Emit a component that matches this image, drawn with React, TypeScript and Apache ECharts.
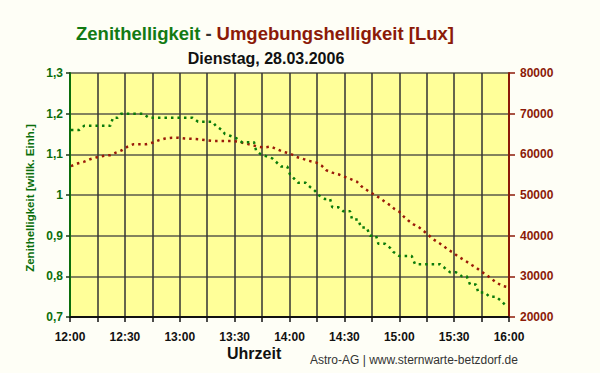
import React, { useEffect, useRef } from "react";
import * as echarts from "echarts";

// minutes after 12:00
const zenithTimes = [0.5, 5, 7.7, 16, 22, 23.5, 26, 28, 40, 43, 67, 70, 78, 79.7, 83, 84.7, 87.9, 90.8, 93.9, 100.6, 101.7, 104.3, 107.5, 110.6, 113, 115.4, 118.8, 120.3, 122.6, 124.8, 128.9, 131.2, 134, 135.8, 139.4, 142.2, 143.4, 146.7, 149.4, 153.1, 154.2, 157.6, 159.1, 162.2, 164, 167.3, 168.6, 172.2, 175, 176.8, 180, 186.8, 188.6, 198.5, 202.3, 205, 207.8, 211, 214.2, 216.9, 218.7, 222, 223.2, 226.9, 229.3, 232.9, 235.6, 237.8];
const zenithValues = [1.16, 1.16, 1.17, 1.17, 1.17, 1.19, 1.19, 1.2, 1.2, 1.19, 1.19, 1.18, 1.18, 1.17, 1.16, 1.15, 1.145, 1.14, 1.13, 1.13, 1.11, 1.1, 1.095, 1.09, 1.08, 1.07, 1.07, 1.05, 1.04, 1.03, 1.03, 1.02, 1.01, 1.0, 0.99, 0.99, 0.97, 0.97, 0.96, 0.96, 0.94, 0.94, 0.92, 0.92, 0.9, 0.9, 0.88, 0.88, 0.87, 0.86, 0.85, 0.85, 0.83, 0.83, 0.83, 0.82, 0.81, 0.81, 0.8, 0.8, 0.78, 0.78, 0.76, 0.76, 0.75, 0.75, 0.74, 0.73];

const luxTimes = [0.5, 4.5, 7.8, 11, 14.8, 19, 22, 25, 28.4, 31.5, 34.8, 38.3, 41.7, 45.5, 48.8, 52.1, 55.8, 59.2, 62.7, 66.7, 70.2, 73.7, 77.5, 81.1, 84.7, 88.4, 92, 95.7, 99.3, 102.6, 106.1, 109.7, 113.4, 116.7, 120.3, 123.6, 127.2, 130.7, 134.5, 137.6, 140, 143.4, 146.7, 150, 153.5, 156.8, 159.1, 161.3, 164, 166.8, 169.5, 172.2, 175, 177.3, 180, 182.2, 185, 187.7, 190.4, 193.5, 195.9, 198.6, 201.4, 204.1, 206.8, 209.6, 211.8, 214.7, 216.9, 219.6, 222.4, 225.1, 227.8, 230.6, 233.3, 236.6, 239.7];
const luxValues = [57100, 57800, 58200, 58800, 59300, 59700, 59800, 60400, 61000, 61900, 62500, 62500, 62500, 62900, 63500, 63900, 64100, 64100, 63900, 63800, 63700, 63500, 63300, 63300, 63300, 63300, 63100, 62700, 62300, 61900, 61700, 61900, 61200, 60600, 60200, 59400, 58900, 58400, 58000, 57200, 56100, 55500, 55100, 54500, 53900, 53300, 52200, 51500, 50700, 50000, 49200, 48300, 47500, 46600, 45900, 44800, 43700, 42800, 42200, 41100, 40200, 39100, 38300, 37500, 36500, 35800, 35000, 34200, 33600, 32800, 32000, 31100, 30300, 29300, 28400, 27600, 27300];

const timeLabels = ["12:00", "12:30", "13:00", "13:30", "14:00", "14:30", "15:00", "15:30", "16:00"];

const GREEN = "#0b6e0b";
const RED = "#8b1a08";
const FONT = "'Liberation Sans', Arial, sans-serif";

export default function App() {
  const ref = useRef<HTMLDivElement>(null);
  useEffect(() => {
    document.body.style.margin = "0";
    document.body.style.background = "#fefef6";
    const chart = echarts.init(ref.current!, null, { renderer: "svg" });
    chart.setOption({
      animation: false,
      backgroundColor: "#fefef6",
      textStyle: { fontFamily: FONT },
      title: [
        {
          text: "{g|Zenithelligkeit} {d|-} {r|Umgebungshelligkeit [Lux]}",
          left: 260,
          top: 19,
          textAlign: "center",
          textStyle: {
            rich: {
              g: { color: "#137a13", fontSize: 18.5, fontWeight: "bold", fontFamily: FONT },
              d: { color: "#333", fontSize: 18.5, fontWeight: "bold", fontFamily: FONT },
              r: { color: "#8b1a08", fontSize: 18.5, fontWeight: "bold", fontFamily: FONT },
            },
          },
        },
        {
          text: "Dienstag, 28.03.2006",
          left: 261,
          top: 45,
          textAlign: "center",
          textStyle: { color: "#111", fontSize: 16, fontWeight: "bold", fontFamily: FONT },
        },
      ],
      graphic: [
        {
          type: "text",
          x: 30,
          y: 198,
          rotation: Math.PI / 2,
          style: {
            text: "Zenithelligkeit [willk. Einh.]",
            fill: GREEN,
            font: `bold 11.5px ${FONT}`,
            align: "center",
            verticalAlign: "middle",
          },
        },
        {
          type: "text",
          left: 227,
          top: 345,
          style: { text: "Uhrzeit", fill: "#111", font: `bold 16px ${FONT}` },
        },
        {
          type: "text",
          left: 310,
          top: 354,
          style: { text: "Astro-AG | www.sternwarte-betzdorf.de", fill: "#333", font: `12px ${FONT}` },
        },
      ],
      grid: {
        left: 70,
        right: 91,
        top: 73,
        bottom: 56,
        show: true,
        backgroundColor: "#ffff99",
        borderWidth: 0,
      },
      xAxis: {
        type: "value",
        min: 0,
        max: 240,
        interval: 15,
        axisLine: { lineStyle: { color: "#111", width: 2 } },
        axisTick: { show: true, length: 5, lineStyle: { color: "#111", width: 1.5 } },
        splitLine: { show: true, lineStyle: { color: "#333", width: 1.5 } },
        axisLabel: {
          margin: 14,
          color: "#111",
          fontSize: 12,
          fontWeight: "bold",
          fontFamily: FONT,
          formatter: (v: number) => (v % 30 === 0 ? timeLabels[v / 30] : ""),
        },
      },
      yAxis: [
        {
          type: "value",
          min: 0.7,
          max: 1.3,
          interval: 0.1,
          axisLine: { show: true, lineStyle: { color: GREEN, width: 2 } },
          axisTick: { show: true, length: 4, lineStyle: { color: "#1a3a1a", width: 1.5 } },
          splitLine: { show: true, lineStyle: { color: "#5a5a4a", width: 1.5 } },
          axisLabel: {
            margin: 7,
            color: GREEN,
            fontSize: 12,
            fontWeight: "bold",
            fontFamily: FONT,
            formatter: (v: number) => String(+v.toFixed(1)).replace(".", ","),
          },
        },
        {
          type: "value",
          position: "right",
          min: 20000,
          max: 80000,
          interval: 10000,
          axisLine: { show: true, lineStyle: { color: RED, width: 2 } },
          axisTick: { show: true, length: 6, lineStyle: { color: RED, width: 1.5 } },
          splitLine: { show: false },
          axisLabel: {
            margin: 11,
            color: RED,
            fontSize: 12,
            fontWeight: "bold",
            fontFamily: FONT,
            formatter: (v: number) => String(v),
          },
        },
      ],
      series: [
        {
          type: "line",
          yAxisIndex: 1,
          showSymbol: false,
          data: luxTimes.map((t, i) => [t, luxValues[i]]),
          lineStyle: { color: "#9a1a0a", width: 2.5, type: [2.5, 4] },
          z: 3,
        },
        {
          type: "line",
          yAxisIndex: 0,
          showSymbol: false,
          data: zenithTimes.map((t, i) => [t, zenithValues[i]]),
          lineStyle: { color: "#0a7a0a", width: 2.5, type: [2.5, 4] },
          z: 4,
        },
      ],
    });
    return () => chart.dispose();
  }, []);
  return <div ref={ref} style={{ width: 600, height: 373 }} />;
}
